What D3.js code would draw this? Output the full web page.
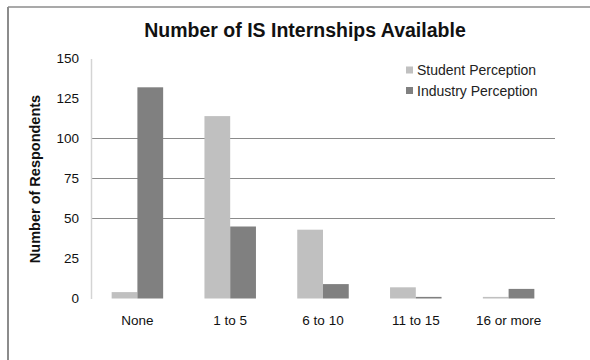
<!DOCTYPE html>
<html><head><meta charset="utf-8">
<script src="https://cdn.jsdelivr.net/npm/d3@7"></script>
<style>body{margin:0;background:#fff}svg{display:block;font-family:"Liberation Sans",Arial,sans-serif}</style>
</head><body><div id="chart"></div>
<script>
const categories = ["None", "1 to 5", "6 to 10", "11 to 15", "16 or more"];
const seriesNames = ["Student Perception", "Industry Perception"];
const studentValues = [4, 114, 43, 7, 1];
const industryValues = [132, 45, 9, 1, 6];
const yTicks = [0, 25, 50, 75, 100, 125, 150];
const gridValues = [50, 75, 100];
const colors = ["#c0c0c0", "#808080"];

const W = 590, H = 360;
const svg = d3.select("#chart").append("svg").attr("width", W).attr("height", H);

// frame
svg.append("line").attr("x1", 8).attr("x2", W).attr("y1", 7).attr("y2", 7).attr("stroke", "#8c8c8c").attr("stroke-width", 1.5);
svg.append("line").attr("x1", 8).attr("x2", 8).attr("y1", 7).attr("y2", H).attr("stroke", "#8c8c8c").attr("stroke-width", 2);

const x0 = 91, x1 = 555, yTop = 58.5, yBot = 298.5;
const x = d3.scaleBand().domain(categories).range([x0, x1]).paddingInner(0.445).paddingOuter(0.2225);
const xs = d3.scaleBand().domain(seriesNames).range([0, x.bandwidth()]);
const y = d3.scaleLinear().domain([0, 150]).range([yBot, yTop]);

// gridlines
svg.append("g").selectAll("line").data(gridValues).join("line")
  .attr("x1", x0).attr("x2", x1).attr("y1", d => y(d)).attr("y2", d => y(d))
  .attr("stroke", "#8a8a8a").attr("stroke-width", 1);

// y axis
const yAxis = d3.axisLeft(y).tickValues(yTicks).tickSize(0).tickPadding(12);
const gy = svg.append("g").attr("transform", `translate(${x0},0)`).call(yAxis);
gy.select(".domain").attr("stroke", "#d4d4d4").attr("stroke-width", 1.5);
gy.selectAll("text").attr("font-size", 13.5).attr("fill", "#111").attr("font-family", "Liberation Sans, Arial, sans-serif");

// bars
const data = categories.map((c, i) => ({c, vals: [studentValues[i], industryValues[i]]}));
const groups = svg.append("g").selectAll("g").data(data).join("g")
  .attr("transform", d => `translate(${x(d.c)},0)`);
groups.selectAll("rect").data(d => d.vals.map((v, j) => ({name: seriesNames[j], v, j}))).join("rect")
  .attr("x", d => xs(d.name)).attr("width", xs.bandwidth())
  .attr("y", d => y(d.v)).attr("height", d => yBot - y(d.v))
  .attr("fill", d => colors[d.j]);

// x axis labels
const xAxis = d3.axisBottom(x).tickSize(0).tickPadding(17);
const gx = svg.append("g").attr("transform", `translate(0,${yBot})`).call(xAxis);
gx.select(".domain").remove();
gx.selectAll("text").attr("font-size", 13.5).attr("fill", "#111").attr("font-family", "Liberation Sans, Arial, sans-serif");

// title
svg.append("text").attr("x", 305).attr("y", 37).attr("text-anchor", "middle")
  .attr("font-size", 19.5).attr("font-weight", "bold").attr("fill", "#111")
  .text("Number of IS Internships Available");

// y title
svg.append("text").attr("transform", `translate(40,179) rotate(-90)`).attr("text-anchor", "middle")
  .attr("font-size", 14.5).attr("font-weight", "bold").attr("fill", "#111")
  .text("Number of Respondents");

// legend
const lg = svg.append("g").selectAll("g").data(seriesNames).join("g")
  .attr("transform", (d, i) => `translate(406,${70 + i * 20.5})`);
lg.append("rect").attr("x", 0).attr("y", -3.5).attr("width", 7).attr("height", 7).attr("fill", (d, i) => colors[i]);
lg.append("text").attr("x", 11).attr("y", 5).attr("font-size", 14).attr("fill", "#222").text(d => d);
</script></body></html>
